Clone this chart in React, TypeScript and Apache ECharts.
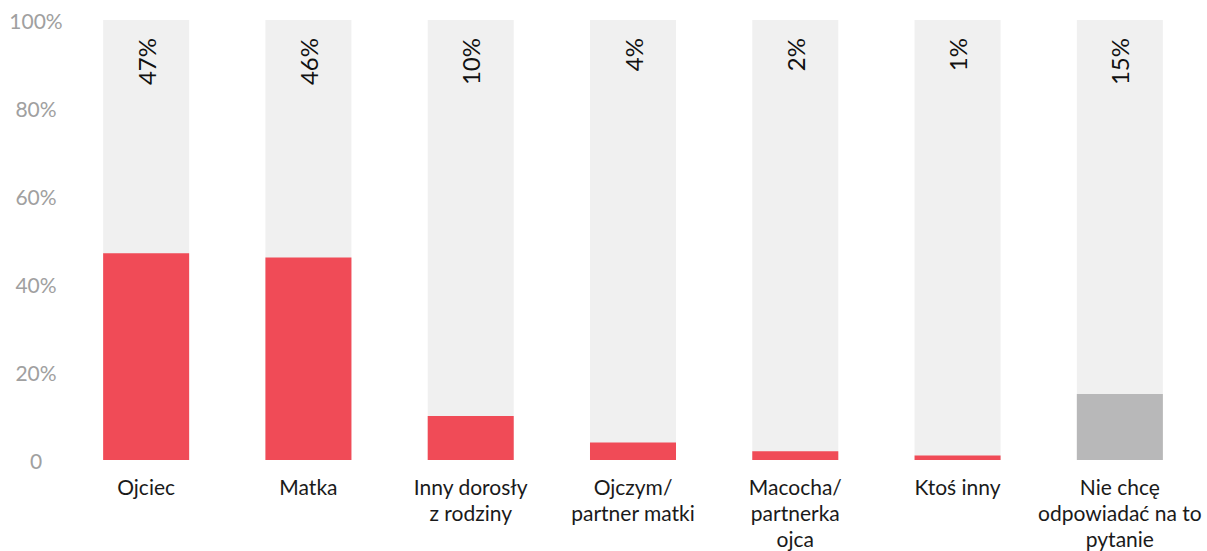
import React, { useEffect, useRef } from "react";
import * as echarts from "echarts";

const categories = [
  "Ojciec",
  "Matka",
  "Inny dorosły\nz rodziny",
  "Ojczym/\npartner matki",
  "Macocha/\npartnerka\nojca",
  "Ktoś inny",
  "Nie chcę\nodpowiadać na to\npytanie",
];
const values = [47, 46, 10, 4, 2, 1, 15];
const barColors = ["#f04b57", "#f04b57", "#f04b57", "#f04b57", "#f04b57", "#f04b57", "#b8b8b9"];
const yTicks = [0, 20, 40, 60, 80, 100];

export default function App() {
  const ref = useRef<HTMLDivElement>(null);
  useEffect(() => {
    if (!ref.current) return;
    const chart = echarts.init(ref.current, undefined, { renderer: "svg" });
    chart.setOption({
      animation: false,
      grid: { left: 65, right: 6, top: 20, bottom: 91, outerBoundsMode: "none", containLabel: false },
      xAxis: {
        type: "category",
        data: categories,
        axisLine: { show: false },
        axisTick: { show: false },
        axisLabel: {
          interval: 0,
          margin: 13,
          fontFamily: "Lato",
          fontSize: 21,
          color: "#1a1a1a",
          lineHeight: 26,
        },
      },
      yAxis: {
        type: "value",
        min: yTicks[0],
        max: yTicks[yTicks.length - 1],
        interval: 20,
        splitLine: { show: false },
        axisLine: { show: false },
        axisTick: { show: false },
        axisLabel: {
          formatter: (v: number) => (v === 0 ? "0" : v + "%"),
          fontFamily: "Lato",
          fontSize: 21,
          color: "#a0a0a0",
          align: "center",
          margin: 29,
        },
      },
      series: [
        {
          type: "bar",
          data: categories.map(() => 100),
          barWidth: "53%",
          itemStyle: { color: "#f0f0f0" },
          silent: true,
          label: {
            show: true,
            position: "insideTop",
            distance: 18,
            rotate: 90,
            align: "right",
            verticalAlign: "middle",
            fontFamily: "Lato",
            fontSize: 24,
            color: "#111",
            formatter: (p: any) => values[p.dataIndex] + "%",
          },
          z: 1,
        },
        {
          type: "bar",
          barGap: "-100%",
          barWidth: "53%",
          data: values.map((v, i) => ({ value: v, itemStyle: { color: barColors[i] } })),
          z: 2,
        },
      ],
    });
    return () => chart.dispose();
  }, []);
  return (
    <div
      style={{
        position: "fixed",
        left: 0,
        top: 0,
        width: 1207,
        height: 551,
        overflow: "hidden",
        background: "#fff",
      }}
    >
      <div ref={ref} style={{ width: 1207, height: 551 }} />
    </div>
  );
}
